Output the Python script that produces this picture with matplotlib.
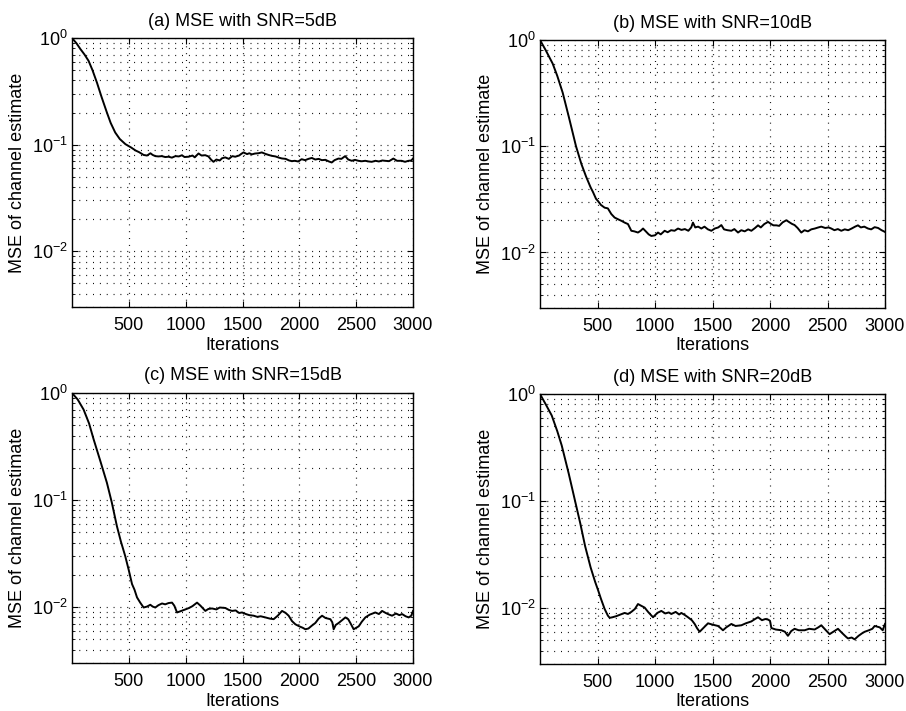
import matplotlib
matplotlib.use('Agg')
import matplotlib.pyplot as plt
from matplotlib.ticker import LogLocator, NullFormatter

plt.rcParams['font.family'] = ['Liberation Sans', 'DejaVu Sans']
plt.rcParams['mathtext.fontset'] = 'custom'
plt.rcParams['mathtext.rm'] = 'Liberation Sans'
plt.rcParams['mathtext.it'] = 'Liberation Sans:italic'
plt.rcParams['mathtext.bf'] = 'Liberation Sans:bold'

# ---------------- data ----------------
titles = ['(a) MSE with SNR=5dB', '(b) MSE with SNR=10dB',
          '(c) MSE with SNR=15dB', '(d) MSE with SNR=20dB']
xlabel = 'Iterations'
ylabel = 'MSE of channel estimate'
xtick_values = [500, 1000, 1500, 2000, 2500, 3000]

iters_a = [0, 40, 73, 110, 146, 180, 220, 260, 307, 340, 380, 420, 470, 520, 560, 590,
           630, 660, 690, 710, 733, 760, 790, 820, 850, 879, 910, 940, 967, 990, 1026,
           1060, 1080, 1113, 1140, 1172, 1200, 1225, 1245, 1270, 1300, 1320, 1348, 1380,
           1410, 1436, 1470, 1490, 1509, 1540, 1560, 1582, 1610, 1640, 1670, 1700, 1730,
           1758, 1790, 1820, 1846, 1880, 1910, 1934, 1960, 1990, 2020, 2051, 2080, 2110,
           2140, 2170, 2198, 2230, 2260, 2285, 2310, 2344, 2370, 2403, 2430, 2461, 2490,
           2520, 2549, 2580, 2610, 2637, 2670, 2700, 2730, 2754, 2790, 2827, 2860, 2900,
           2930, 2960, 2985, 3000]
mse_a = [1.0, 0.89, 0.79, 0.70, 0.61, 0.50, 0.38, 0.28, 0.20, 0.16, 0.13, 0.113, 0.101,
         0.094, 0.088, 0.085, 0.080, 0.079, 0.083, 0.080, 0.078, 0.0775, 0.078, 0.0765,
         0.077, 0.0755, 0.078, 0.0775, 0.0795, 0.0765, 0.077, 0.079, 0.076, 0.0826, 0.079,
         0.0796, 0.0775, 0.072, 0.069, 0.0725, 0.071, 0.0745, 0.0759, 0.0735, 0.078, 0.077,
         0.079, 0.082, 0.0845, 0.0815, 0.083, 0.081, 0.0825, 0.083, 0.0845, 0.082, 0.080,
         0.0785, 0.0775, 0.0755, 0.0742, 0.0735, 0.071, 0.070, 0.0705, 0.0695, 0.073,
         0.0715, 0.0735, 0.075, 0.0725, 0.0735, 0.0715, 0.072, 0.0695, 0.068, 0.0715,
         0.074, 0.0735, 0.078, 0.0725, 0.0705, 0.072, 0.0705, 0.0698, 0.0705, 0.0695,
         0.069, 0.0705, 0.0695, 0.071, 0.0705, 0.070, 0.074, 0.0705, 0.0705, 0.069,
         0.0705, 0.071, 0.074]

iters_b = [0, 50, 110, 150, 197, 250, 313, 360, 400, 440, 461, 487, 504, 530, 562, 590,
           620, 649, 680, 710, 736, 765, 794, 820, 852, 875, 896, 920, 945, 968, 1000,
           1026, 1050, 1084, 1110, 1140, 1170, 1200, 1230, 1260, 1290, 1315, 1330, 1350,
           1375, 1403, 1430, 1460, 1490, 1520, 1550, 1577, 1600, 1630, 1664, 1690, 1722,
           1750, 1780, 1810, 1838, 1870, 1896, 1920, 1950, 1983, 2010, 2030, 2055, 2080,
           2110, 2142, 2170, 2190, 2214, 2240, 2272, 2300, 2330, 2359, 2390, 2420, 2446,
           2480, 2510, 2533, 2560, 2590, 2620, 2650, 2680, 2710, 2740, 2765, 2790, 2820,
           2852, 2880, 2910, 2940, 2970, 3000]
mse_b = [1.0, 0.80, 0.60, 0.46, 0.32, 0.19, 0.10, 0.068, 0.052, 0.041, 0.037, 0.032,
         0.0305, 0.028, 0.0264, 0.026, 0.023, 0.0213, 0.0205, 0.0198, 0.0191, 0.0185,
         0.016, 0.0158, 0.0154, 0.016, 0.0168, 0.0158, 0.0148, 0.0143, 0.0145, 0.0154,
         0.0148, 0.016, 0.0155, 0.0162, 0.016, 0.0168, 0.0163, 0.0166, 0.016, 0.0172,
         0.0191, 0.0172, 0.0175, 0.0168, 0.0175, 0.0165, 0.016, 0.0168, 0.0172, 0.0181,
         0.0165, 0.0162, 0.016, 0.0166, 0.0154, 0.0162, 0.0158, 0.0165, 0.016, 0.017,
         0.018, 0.0172, 0.0185, 0.0194, 0.0185, 0.018, 0.018, 0.0178, 0.0192, 0.0201,
         0.0192, 0.0186, 0.0181, 0.017, 0.0154, 0.0162, 0.0158, 0.0165, 0.0168, 0.0172,
         0.0175, 0.017, 0.0172, 0.0168, 0.0162, 0.0166, 0.016, 0.0165, 0.0162, 0.0168,
         0.0175, 0.018, 0.0172, 0.0175, 0.0168, 0.0165, 0.0173, 0.017, 0.0162, 0.0156]

iters_c = [0, 50, 102, 150, 190, 250, 307, 350, 395, 430, 468, 500, 528, 550, 572, 600,
           630, 660, 689, 710, 733, 760, 792, 820, 850, 880, 900, 924, 950, 997, 1030,
           1060, 1100, 1130, 1173, 1200, 1232, 1270, 1300, 1349, 1380, 1408, 1440, 1470,
           1496, 1530, 1560, 1598, 1630, 1660, 1701, 1740, 1774, 1810, 1848, 1880, 1906,
           1935, 1965, 2000, 2030, 2053, 2080, 2110, 2141, 2170, 2200, 2230, 2273, 2290,
           2302, 2320, 2346, 2380, 2405, 2430, 2455, 2478, 2500, 2522, 2550, 2581, 2620,
           2669, 2700, 2728, 2760, 2790, 2816, 2850, 2880, 2904, 2935, 2962, 2985, 3000]
mse_c = [1.0, 0.87, 0.70, 0.52, 0.37, 0.23, 0.145, 0.095, 0.057, 0.041, 0.030, 0.022,
         0.0164, 0.0145, 0.0123, 0.011, 0.0099, 0.0101, 0.0105, 0.0101, 0.0099, 0.0104,
         0.0108, 0.0106, 0.0109, 0.011, 0.0103, 0.0089, 0.0091, 0.0095, 0.0098, 0.0102,
         0.011, 0.0103, 0.0092, 0.0096, 0.0097, 0.0095, 0.0099, 0.0098, 0.0094, 0.0092,
         0.0093, 0.0088, 0.0089, 0.0086, 0.0084, 0.0083, 0.0081, 0.0082, 0.008, 0.0078,
         0.0077, 0.0083, 0.0092, 0.0088, 0.0083, 0.0074, 0.0069, 0.0066, 0.0064, 0.0062,
         0.0063, 0.0067, 0.0071, 0.0078, 0.0083, 0.0079, 0.0077, 0.0072, 0.0062, 0.0068,
         0.0071, 0.0076, 0.008, 0.0077, 0.0069, 0.0062, 0.0064, 0.0066, 0.0073, 0.008,
         0.0085, 0.0089, 0.0086, 0.0092, 0.0088, 0.0085, 0.0083, 0.0087, 0.0084, 0.0086,
         0.0082, 0.008, 0.0083, 0.0092]

iters_d = [0, 50, 102, 150, 189, 250, 305, 350, 392, 440, 480, 504, 530, 562, 590, 606,
           630, 664, 700, 736, 765, 794, 825, 852, 880, 910, 940, 965, 983, 1020, 1055,
           1090, 1120, 1142, 1180, 1210, 1229, 1260, 1287, 1320, 1345, 1365, 1388, 1420,
           1461, 1500, 1548, 1570, 1591, 1620, 1664, 1700, 1751, 1790, 1838, 1870, 1896,
           1930, 1960, 1983, 2000, 2012, 2050, 2099, 2130, 2156, 2185, 2214, 2250, 2301,
           2340, 2388, 2420, 2446, 2480, 2518, 2550, 2591, 2630, 2660, 2678, 2710, 2736,
           2770, 2800, 2823, 2860, 2890, 2910, 2954, 2980, 3000]
mse_d = [1.0, 0.80, 0.63, 0.45, 0.33, 0.18, 0.10, 0.062, 0.038, 0.024, 0.0175, 0.0148,
         0.0122, 0.0098, 0.0085, 0.0081, 0.0082, 0.0084, 0.0087, 0.009, 0.0088, 0.0092,
         0.0098, 0.0109, 0.0105, 0.0101, 0.0092, 0.0086, 0.0082, 0.009, 0.0094, 0.0089,
         0.0091, 0.0088, 0.0092, 0.0087, 0.009, 0.0086, 0.0082, 0.0077, 0.0071, 0.0065,
         0.006, 0.0065, 0.0072, 0.007, 0.0068, 0.0065, 0.0062, 0.0066, 0.0071, 0.0068,
         0.0069, 0.0072, 0.0075, 0.0079, 0.0082, 0.0077, 0.0079, 0.0078, 0.0076, 0.0065,
         0.0063, 0.0062, 0.006, 0.0055, 0.0061, 0.0064, 0.0062, 0.0062, 0.0064, 0.0063,
         0.0066, 0.0069, 0.0063, 0.0057, 0.006, 0.0064, 0.0058, 0.0054, 0.0052, 0.0053,
         0.0051, 0.0055, 0.0058, 0.006, 0.0062, 0.0064, 0.0068, 0.0066, 0.0062, 0.0071]

series = [(iters_a, mse_a), (iters_b, mse_b), (iters_c, mse_c), (iters_d, mse_d)]

# ---------------- layout ----------------
W, H = 906, 711
boxes = [(72, 38, 413, 307), (540, 40, 885, 308),
         (72, 393, 413, 663), (540, 394, 885, 664)]

fig = plt.figure(figsize=(W / 100, H / 100), dpi=100)
fs = 12.5
dot = dict(color='k', linestyle=(0, (0.8, 5.0)), linewidth=0.85)

for (x, y), title, (l, t, r, b) in zip(series, titles, boxes):
    ax = fig.add_axes([l / W, 1 - b / H, (r - l) / W, (b - t) / H])
    ax.semilogy(x, y, color='k', linewidth=1.4)
    ax.set_xlim(0, 3000)
    ax.set_ylim(3e-3, 1)
    ax.set_xticks(xtick_values)
    ax.set_xticklabels([str(v) for v in xtick_values])
    ax.yaxis.set_major_locator(LogLocator(base=10, numticks=10))
    ax.yaxis.set_minor_locator(LogLocator(base=10, subs=range(2, 10), numticks=20))
    ax.yaxis.set_minor_formatter(NullFormatter())
    ax.grid(True, which='major', axis='both', **dot)
    ax.grid(True, which='minor', axis='y', **dot)
    ax.tick_params(which='both', direction='in', top=True, right=True,
                   labelsize=fs + 0.5, color='k')
    ax.tick_params(which='major', length=4, width=0.8)
    ax.tick_params(which='minor', length=2, width=0.6)
    ax.tick_params(axis='x', pad=7)
    ax.tick_params(axis='y', pad=3)
    for sp in ax.spines.values():
        sp.set_linewidth(1.0)
        sp.set_color('k')
    ax.set_title(title, fontsize=fs + 0.5, pad=9)
    ax.set_xlabel(xlabel, fontsize=fs + 0.5, labelpad=2)
    ax.set_ylabel(ylabel, fontsize=fs + 0.5, labelpad=4)

fig.savefig('out.png', dpi=100)
